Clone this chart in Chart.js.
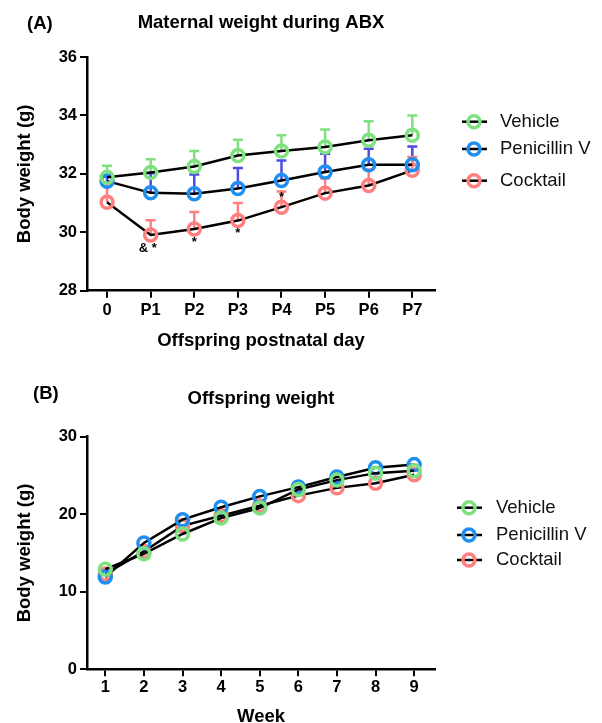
<!DOCTYPE html>
<html>
<head>
<meta charset="utf-8">
<script src="https://cdn.jsdelivr.net/npm/chart.js@4.4.1/dist/chart.umd.min.js"></script>
<style>
html, body { margin: 0; padding: 0; overflow: hidden; background: #fff; }
#wrap { position: relative; width: 602px; height: 723px; overflow: hidden; }
#chartA { position: absolute; left: 0; top: 0; }
#chartB { position: absolute; left: 0; top: 365px; }
</style>
</head>
<body>
<div id="wrap">
  <canvas id="chartA" width="602" height="365"></canvas>
  <canvas id="chartB" width="602" height="380"></canvas>
</div>
<script>
const groups = ['Vehicle', 'Penicillin V', 'Cocktail'];
const markerColors = ['#7fe07f', '#1e8fef', '#ff7f7f'];
const errorColors = ['#80e080', '#4d4de6', '#ff8080'];

// (A) maternal weight
const days = ['0', 'P1', 'P2', 'P3', 'P4', 'P5', 'P6', 'P7'];
const vehicleA = [31.88, 32.05, 32.25, 32.63, 32.78, 32.92, 33.15, 33.32];
const penicillinA = [31.75, 31.35, 31.32, 31.5, 31.77, 32.06, 32.31, 32.31];
const cocktailA = [31.03, 29.91, 30.11, 30.4, 30.86, 31.34, 31.6, 32.12];
const vehicleErrA = [0.4, 0.45, 0.53, 0.54, 0.54, 0.6, 0.65, 0.68];
const penicillinErrA = [0.15, 0.67, 0.66, 0.7, 0.69, 0.63, 0.55, 0.63];
const cocktailErrA = [0.65, 0.5, 0.58, 0.6, 0.54, 0.5, 0.55, 0.46];
// significance marks (day index, y value, text)
const starDays = [1, 2, 3, 4];
const starLevels = [29.45, 29.65, 29.96, 31.2];
const starTexts = ['& *', '*', '*', '*'];

// (B) offspring weight
const weeks = [1, 2, 3, 4, 5, 6, 7, 8, 9];
const vehicleB = [12.9, 14.9, 17.45, 19.5, 20.8, 23.2, 24.4, 25.3, 25.6];
const penicillinB = [11.9, 16.3, 19.3, 20.9, 22.3, 23.5, 24.8, 26.0, 26.4];
const cocktailB = [12.3, 15.2, 18.5, 19.8, 21.1, 22.4, 23.4, 24.0, 25.1];

Chart.defaults.font.family = "'Liberation Sans', Arial, sans-serif";
Chart.defaults.color = '#000';

function makeSets(xs, series, errs) {
  return groups.map((g, i) => ({
    label: g,
    data: series[i].map((v, j) => ({ x: xs[j], y: v })),
    errors: errs ? errs[i] : null,
    errorColor: errorColors[i],
    borderColor: '#000',
    borderWidth: 2.5,
    tension: 0,
    pointRadius: 6,
    pointHoverRadius: 6,
    pointBorderWidth: 3.5,
    pointBorderColor: markerColors[i],
    pointBackgroundColor: 'rgba(0,0,0,0)'
  }));
}

const errorBars = {
  id: 'errorBars',
  beforeDatasetsDraw(chart) {
    const { ctx, scales: { x, y } } = chart;
    chart.data.datasets.forEach(ds => {
      if (!ds.errors) return;
      ctx.save();
      ctx.strokeStyle = ds.errorColor;
      ctx.lineWidth = 2.5;
      ds.data.forEach((p, j) => {
        const px = x.getPixelForValue(p.x);
        const y0 = y.getPixelForValue(p.y);
        const y1 = y.getPixelForValue(p.y + ds.errors[j]);
        ctx.beginPath();
        ctx.moveTo(px, y0);
        ctx.lineTo(px, y1);
        ctx.moveTo(px - 5, y1);
        ctx.lineTo(px + 5, y1);
        ctx.stroke();
      });
      ctx.restore();
    });
  }
};

// panel letter + legend on the right
const extras = {
  id: 'extras',
  afterDraw(chart, args, opts) {
    const ctx = chart.ctx;
    ctx.save();
    ctx.fillStyle = '#000';
    ctx.textBaseline = 'middle';
    ctx.textAlign = 'left';
    ctx.font = "bold 18.5px 'Liberation Sans', Arial, sans-serif";
    ctx.fillText(opts.letter, opts.letterX, opts.letterY);

    chart.data.datasets.forEach((ds, i) => {
      const ly = opts.legendY[i];
      ctx.strokeStyle = '#000';
      ctx.lineWidth = 2.5;
      ctx.beginPath();
      ctx.moveTo(opts.legendX, ly);
      ctx.lineTo(opts.legendX + 25, ly);
      ctx.stroke();
      ctx.strokeStyle = ds.pointBorderColor;
      ctx.lineWidth = 3.5;
      ctx.beginPath();
      ctx.arc(opts.legendX + 12, ly, 6, 0, Math.PI * 2);
      ctx.stroke();
      ctx.fillStyle = '#111';
      ctx.font = "18.5px 'Liberation Sans', Arial, sans-serif";
      ctx.fillText(ds.label, opts.textX, ly);
    });
    ctx.restore();
  }
};

const stars = {
  id: 'stars',
  afterDatasetsDraw(chart) {
    const { ctx, scales: { x, y } } = chart;
    ctx.save();
    ctx.fillStyle = '#000';
    ctx.textAlign = 'center';
    ctx.textBaseline = 'middle';
    ctx.font = "bold 13px 'Liberation Sans', Arial, sans-serif";
    starDays.forEach((d, k) => {
      const shift = starTexts[k].length > 1 ? -3 : 0;
      ctx.fillText(starTexts[k], x.getPixelForValue(d) + shift, y.getPixelForValue(starLevels[k]));
    });
    ctx.restore();
  }
};

function axes(c) {
  return {
    x: {
      type: 'linear', min: c.xMin, max: c.xMax,
      border: { color: '#000', width: 2.5 },
      grid: { drawOnChartArea: false, color: '#000', lineWidth: 2, tickLength: 7 },
      ticks: {
        stepSize: 1, includeBounds: false, autoSkip: false, maxRotation: 0,
        padding: c.xPad, color: '#000',
        font: { size: 16.5, weight: 'bold' },
        callback: c.xLabel
      },
      title: {
        display: true, text: c.xTitle, color: '#000',
        font: { size: 18.5, weight: 'bold' },
        padding: { top: 0, bottom: c.xTitlePad }
      },
      afterFit: s => { s.height = c.xHeight; }
    },
    y: {
      min: c.yMin, max: c.yMax,
      border: { color: '#000', width: 2.5 },
      grid: { drawOnChartArea: false, color: '#000', lineWidth: 2, tickLength: 7 },
      ticks: { stepSize: c.yStep, padding: 3, color: '#000', font: { size: 16.5, weight: 'bold' } },
      title: {
        display: true, text: 'Body weight (g)', color: '#000',
        font: { size: 18.5, weight: 'bold' },
        padding: { top: 13.4, bottom: 0 }
      },
      afterFit: s => { s.width = 87; }
    }
  };
}

new Chart(document.getElementById('chartA'), {
  type: 'line',
  data: {
    datasets: makeSets(days.map((d, i) => i), [vehicleA, penicillinA, cocktailA],
      [vehicleErrA, penicillinErrA, cocktailErrA])
  },
  options: {
    responsive: false,
    animation: false,
    devicePixelRatio: 1,
    layout: { padding: { left: 0, right: 167, top: 0, bottom: 0 } },
    scales: axes({
      xMin: -0.46, xMax: 7.52, xPad: 3, xHeight: 74.3, xTitlePad: 12.9,
      xTitle: 'Offspring postnatal day', xLabel: v => days[v],
      yMin: 28, yMax: 36, yStep: 2
    }),
    plugins: {
      legend: { display: false },
      tooltip: { enabled: false },
      title: {
        display: true, fullSize: false, text: 'Maternal weight during ABX', color: '#000',
        font: { size: 18.5, weight: 'bold' },
        padding: { top: 12, bottom: 22.8 }
      },
      extras: { letter: '(A)', letterX: 27, letterY: 24, legendX: 462, legendY: [121.7, 149, 180.7], textX: 500 }
    }
  },
  plugins: [errorBars, extras, stars]
});

new Chart(document.getElementById('chartB'), {
  type: 'line',
  data: {
    datasets: makeSets(weeks, [vehicleB, penicillinB, cocktailB], null)
  },
  options: {
    responsive: false,
    animation: false,
    devicePixelRatio: 1,
    layout: { padding: { left: 0, right: 167, top: 0, bottom: 0 } },
    scales: axes({
      xMin: 0.526, xMax: 9.54, xPad: 1.5, xHeight: 75.7, xTitlePad: 16.9,
      xTitle: 'Week', xLabel: v => String(v),
      yMin: 0, yMax: 30, yStep: 10
    }),
    plugins: {
      legend: { display: false },
      tooltip: { enabled: false },
      title: {
        display: true, fullSize: false, text: 'Offspring weight', color: '#000',
        font: { size: 18.5, weight: 'bold' },
        padding: { top: 22.4, bottom: 27.1 }
      },
      extras: { letter: '(B)', letterX: 33, letterY: 29, legendX: 457, legendY: [142.7, 170, 195], textX: 496 }
    }
  },
  plugins: [errorBars, extras]
});
</script>
</body>
</html>
